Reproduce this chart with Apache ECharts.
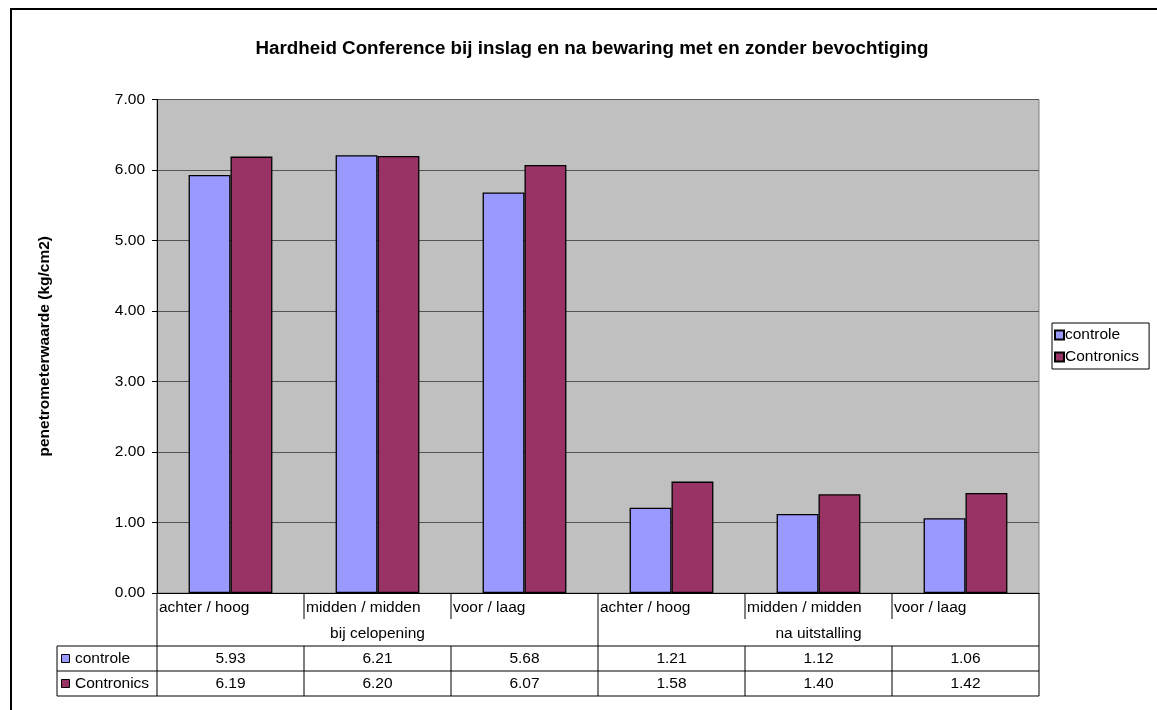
<!DOCTYPE html>
<html>
<head>
<meta charset="utf-8">
<script src="https://cdn.jsdelivr.net/npm/echarts@6/dist/echarts.min.js"></script>
<style>
  html, body { margin: 0; padding: 0; background: #fff; }
  #main { width: 1157px; height: 710px; }
</style>
</head>
<body>
<div id="main"></div>
<script>
// data
var categories = ['achter / hoog', 'midden / midden', 'voor / laag', 'achter / hoog', 'midden / midden', 'voor / laag'];
var groups = ['bij celopening', 'na uitstalling'];
var groupSize = 3;
var seriesNames = ['controle', 'Contronics'];
var controle = [5.93, 6.21, 5.68, 1.21, 1.12, 1.06];
var contronics = [6.19, 6.20, 6.07, 1.58, 1.40, 1.42];
var colors = ['#9999FF', '#993366'];

var font = '"Liberation Sans", Arial, sans-serif';
var fs = 15.5;
var gridLeft = 157, gridTop = 99.5, gridW = 882, gridH = 493.5;

var myChart = echarts.init(document.getElementById('main'));

myChart.setOption({
  animation: false,
  backgroundColor: '#fff',
  textStyle: { fontFamily: font, color: '#000' },
  title: {
    text: 'Hardheid Conference bij inslag en na bewaring met en zonder bevochtiging',
    left: 587, top: 34, textAlign: 'center',
    textStyle: { fontSize: 18.8, fontWeight: 'bold', color: '#000', fontFamily: font }
  },
  legend: {
    orient: 'vertical',
    left: 1052, top: 323,
    padding: [4, 10, 4, 2],
    itemGap: 6,
    itemWidth: 9, itemHeight: 9,
    icon: 'rect',
    borderColor: '#000', borderWidth: 1,
    backgroundColor: '#fff',
    textStyle: { fontSize: fs, color: '#000', fontFamily: font, padding: [0, 0, 0, -4] },
    data: seriesNames
  },
  grid: {
    left: gridLeft, top: gridTop, width: gridW, height: gridH,
    show: true, backgroundColor: '#C0C0C0', borderColor: '#808080', borderWidth: 1
  },
  xAxis: {
    type: 'category',
    data: categories,
    axisLine: { lineStyle: { color: '#000', width: 1 } },
    axisTick: { show: false },
    axisLabel: { show: false }
  },
  yAxis: {
    type: 'value',
    min: 0, max: 7, interval: 1,
    name: 'penetrometerwaarde (kg/cm2)',
    nameLocation: 'middle',
    nameGap: 104,
    nameRotate: 90,
    nameTextStyle: { fontSize: 15.5, fontWeight: 'bold', color: '#000', fontFamily: font },
    axisLine: { show: true, lineStyle: { color: '#000', width: 1 } },
    axisTick: { show: true, length: 5, lineStyle: { color: '#000' } },
    axisLabel: {
      fontSize: fs, color: '#000', margin: 12, fontFamily: font,
      formatter: function (v) { return v.toFixed(2); }
    },
    splitLine: { show: true, lineStyle: { color: '#555', width: 1 } }
  },
  series: [
    {
      name: seriesNames[0], type: 'bar', data: controle,
      barGap: '0%', barCategoryGap: '43%',
      itemStyle: { color: colors[0], borderColor: '#000', borderWidth: 1.3 }
    },
    {
      name: seriesNames[1], type: 'bar', data: contronics,
      barGap: '0%', barCategoryGap: '43%',
      itemStyle: { color: colors[1], borderColor: '#000', borderWidth: 1.3 }
    }
  ]
});

// data table under the plot, placed from the category axis
var catW = gridW / categories.length;
var x0 = myChart.convertToPixel({ xAxisIndex: 0 }, 0) - catW / 2;
var xEnd = x0 + catW * categories.length;
var yBase = myChart.convertToPixel({ yAxisIndex: 0 }, 0);
var rowCat = yBase, rowGrp = yBase + 27, rowS1 = yBase + 53, rowS2 = rowS1 + 25, rowEnd = rowS2 + 25;
var keyLeft = 57;

var g = [];
function line(x1, y1, x2, y2) {
  g.push({ type: 'line', silent: true, shape: { x1: x1, y1: y1, x2: x2, y2: y2 },
    style: { stroke: '#000', lineWidth: 1 } });
}
function text(str, x, y, align) {
  g.push({ type: 'text', silent: true, x: x, y: y,
    style: { text: str, fill: '#000', font: fs + 'px ' + font, align: align, verticalAlign: 'middle' } });
}

// horizontal lines
line(keyLeft, rowS1, xEnd, rowS1);
line(keyLeft, rowS2, xEnd, rowS2);
line(keyLeft, rowEnd, xEnd, rowEnd);
line(keyLeft, rowS1, keyLeft, rowEnd);
line(x0, yBase, x0, rowEnd);
line(xEnd, yBase, xEnd, rowEnd);

categories.forEach(function (c, i) {
  var left = x0 + i * catW;
  var cx = left + catW / 2;
  if (i > 0) {
    if (i % groupSize === 0) {
      line(left, yBase, left, rowEnd);
    } else {
      line(left, yBase, left, rowCat + 26);
      line(left, rowS1, left, rowEnd);
    }
  }
  text(c, left + 2, rowCat + 15, 'left');
  text(controle[i].toFixed(2), cx, rowS1 + 13, 'center');
  text(contronics[i].toFixed(2), cx, rowS2 + 13, 'center');
});

groups.forEach(function (grp, k) {
  var cx = x0 + (k * groupSize + groupSize / 2) * catW;
  text(grp, cx, rowGrp + 13.5, 'center');
});

// legend keys in the table
[rowS1, rowS2].forEach(function (ry, s) {
  g.push({ type: 'rect', silent: true, shape: { x: keyLeft + 4.5, y: ry + 8.5, width: 8, height: 8 },
    style: { fill: colors[s], stroke: '#000', lineWidth: 1 } });
  text(seriesNames[s], keyLeft + 18, ry + 13, 'left');
});

// chart frame
g.push({ type: 'rect', silent: true, shape: { x: 11, y: 9, width: 1300, height: 900 },
  style: { fill: 'none', stroke: '#000', lineWidth: 2 } });

myChart.setOption({ graphic: g });
</script>
</body>
</html>
